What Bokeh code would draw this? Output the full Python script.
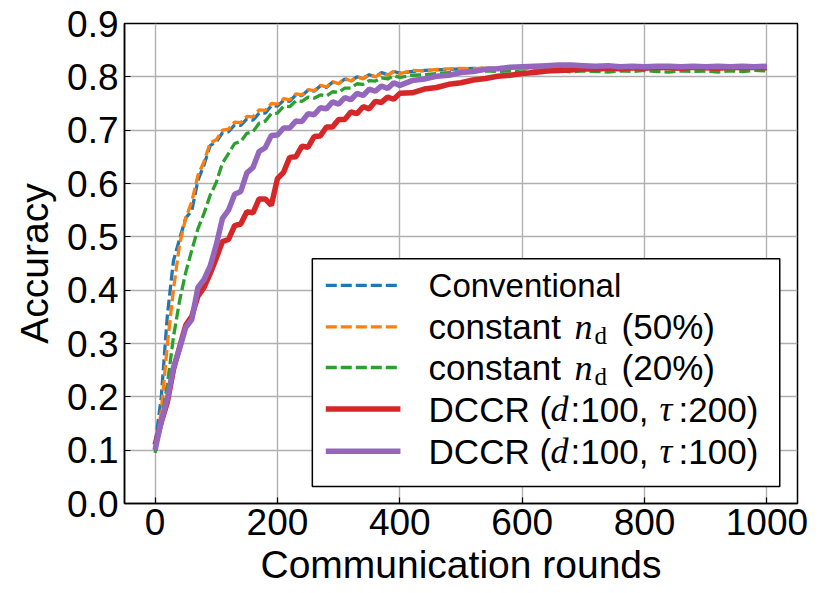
from bokeh.plotting import figure
from bokeh.models import Label, FixedTicker, Range1d
from bokeh.embed import file_html
from bokeh.resources import INLINE

# ---------------- data ----------------
rounds = [0, 10, 20, 30, 40, 50, 60, 70, 80, 90, 100, 110, 120, 130, 140, 150, 160, 170, 180, 190,
          200, 210, 220, 230, 240, 250, 260, 270, 280, 290, 300, 310, 320, 330, 340, 350, 360, 370, 380, 390,
          400, 420, 440, 460, 480, 500, 520, 540, 560, 580, 600, 620, 640, 660, 680, 700, 720, 740, 760, 780,
          800, 820, 840, 860, 880, 900, 920, 940, 960, 980, 1000]

conventional = [0.110, 0.198, 0.352, 0.455, 0.496, 0.535, 0.549, 0.606, 0.635, 0.671, 0.678, 0.695, 0.697, 0.710, 0.709, 0.721, 0.719, 0.732, 0.732, 0.746,
                0.745, 0.756, 0.754, 0.766, 0.765, 0.775, 0.773, 0.783, 0.780, 0.790, 0.787, 0.796, 0.792, 0.800, 0.797, 0.804, 0.800, 0.808, 0.804, 0.810,
                0.807, 0.810, 0.812, 0.813, 0.814, 0.815, 0.816, 0.816, 0.816, 0.818, 0.817, 0.818, 0.816, 0.817, 0.818, 0.817, 0.816, 0.818, 0.817, 0.817,
                0.818, 0.816, 0.817, 0.818, 0.817, 0.816, 0.817, 0.818, 0.817, 0.816, 0.817]

const50 = [0.100, 0.172, 0.298, 0.401, 0.486, 0.535, 0.566, 0.615, 0.641, 0.676, 0.682, 0.700, 0.702, 0.715, 0.714, 0.726, 0.725, 0.738, 0.737, 0.750,
           0.749, 0.759, 0.757, 0.768, 0.766, 0.776, 0.774, 0.784, 0.781, 0.791, 0.787, 0.797, 0.792, 0.800, 0.796, 0.804, 0.800, 0.807, 0.803, 0.810,
           0.806, 0.812, 0.811, 0.814, 0.815, 0.816, 0.815, 0.817, 0.816, 0.817, 0.815, 0.817, 0.816, 0.818, 0.816, 0.817, 0.815, 0.817, 0.816, 0.816,
           0.817, 0.815, 0.816, 0.817, 0.816, 0.817, 0.815, 0.817, 0.816, 0.817, 0.816]

const20 = [0.095, 0.152, 0.223, 0.312, 0.380, 0.433, 0.475, 0.515, 0.544, 0.578, 0.602, 0.638, 0.656, 0.675, 0.679, 0.694, 0.697, 0.713, 0.717, 0.731,
           0.732, 0.745, 0.744, 0.755, 0.754, 0.762, 0.760, 0.766, 0.764, 0.772, 0.771, 0.779, 0.779, 0.787, 0.786, 0.793, 0.792, 0.798, 0.796, 0.802,
           0.799, 0.803, 0.804, 0.806, 0.808, 0.809, 0.810, 0.811, 0.810, 0.811, 0.809, 0.811, 0.810, 0.812, 0.809, 0.811, 0.810, 0.809, 0.811, 0.810,
           0.812, 0.810, 0.809, 0.811, 0.810, 0.811, 0.809, 0.811, 0.810, 0.812, 0.811]

dccr_200 = [0.110, 0.152, 0.190, 0.251, 0.293, 0.334, 0.351, 0.389, 0.405, 0.431, 0.460, 0.491, 0.495, 0.521, 0.524, 0.547, 0.545, 0.571, 0.571, 0.559,
            0.609, 0.621, 0.649, 0.650, 0.670, 0.668, 0.688, 0.689, 0.706, 0.706, 0.720, 0.720, 0.734, 0.731, 0.744, 0.740, 0.754, 0.752, 0.762, 0.758,
            0.769, 0.770, 0.777, 0.780, 0.786, 0.789, 0.794, 0.797, 0.801, 0.803, 0.806, 0.808, 0.811, 0.812, 0.813, 0.815, 0.814, 0.816, 0.815, 0.817,
            0.816, 0.818, 0.817, 0.816, 0.818, 0.817, 0.816, 0.818, 0.817, 0.818, 0.817]

dccr_100 = [0.100, 0.154, 0.196, 0.255, 0.290, 0.330, 0.345, 0.405, 0.420, 0.445, 0.485, 0.534, 0.550, 0.580, 0.585, 0.620, 0.630, 0.660, 0.667, 0.690,
            0.691, 0.704, 0.704, 0.717, 0.716, 0.731, 0.729, 0.742, 0.740, 0.753, 0.749, 0.761, 0.757, 0.769, 0.765, 0.777, 0.773, 0.783, 0.778, 0.789,
            0.784, 0.793, 0.796, 0.801, 0.803, 0.808, 0.810, 0.814, 0.815, 0.818, 0.819, 0.820, 0.821, 0.822, 0.822, 0.821, 0.820, 0.821, 0.819, 0.820,
            0.819, 0.820, 0.820, 0.819, 0.820, 0.819, 0.820, 0.819, 0.820, 0.819, 0.820]

x_ticks = [0, 200, 400, 600, 800, 1000]
y_ticks = [0.0, 0.1, 0.2, 0.3, 0.4, 0.5, 0.6, 0.7, 0.8, 0.9]
y_tick_labels = {v: f"{v:.1f}" for v in y_ticks}

FONT = "Liberation Sans"
SERIF = "Liberation Serif"
C_BLUE, C_ORANGE, C_GREEN, C_RED, C_PURPLE = "#1f77b4", "#ff7f0e", "#2ca02c", "#d62728", "#9467bd"

p = figure(width=822, height=585, output_backend="svg", toolbar_location=None,
           frame_width=673, frame_height=480,
           x_range=Range1d(-50, 1050), y_range=Range1d(0, 0.9),
           min_border_left=124, min_border_right=25, min_border_top=23, min_border_bottom=82)
p.background_fill_color = "white"
p.border_fill_color = "white"
p.outline_line_color = "black"
p.outline_line_width = 1.5

for ax in (p.xaxis[0], p.yaxis[0]):
    ax.major_label_text_font = FONT
    ax.major_label_text_font_size = "37px"
    ax.major_label_text_color = "black"
    ax.axis_label_text_font = FONT
    ax.axis_label_text_font_size = "39px"
    ax.axis_label_text_font_style = "normal"
    ax.axis_label_text_color = "black"
    ax.major_tick_in = 6
    ax.major_tick_out = 0
    ax.minor_tick_line_color = None
    ax.axis_line_color = "black"
    ax.axis_line_width = 1.5
    ax.major_tick_line_width = 1.2

p.xaxis.ticker = FixedTicker(ticks=x_ticks)
p.yaxis.ticker = FixedTicker(ticks=y_ticks)
p.yaxis.major_label_overrides = y_tick_labels
p.xaxis.axis_label = "Communication rounds"
p.yaxis.axis_label = "Accuracy"
p.xaxis.major_label_standoff = 5
p.yaxis.major_label_standoff = 6
p.xaxis.axis_label_standoff = 5
p.yaxis.axis_label_standoff = 8

p.grid.grid_line_color = "#b0b0b0"
p.grid.grid_line_width = 1.4

DASH = "11 4"
p.line(rounds, conventional, line_color=C_BLUE, line_width=3.3, line_dash=DASH)
p.line(rounds, const50, line_color=C_ORANGE, line_width=3.3, line_dash=DASH)
p.line(rounds, const20, line_color=C_GREEN, line_width=3.3, line_dash=DASH)
p.line(rounds, dccr_200, line_color=C_RED, line_width=5.5)
p.line(rounds, dccr_100, line_color=C_PURPLE, line_width=5.5)

# ---------------- legend (drawn by hand for the math parts) ----------------
p.quad(left=[257], right=[1021], bottom=[0.032], top=[0.459],
       fill_color="white", fill_alpha=1.0, line_color="black", line_width=1.5, level="overlay")

entry_y = [0.409, 0.331, 0.255, 0.177, 0.098]
entry_col = [C_BLUE, C_ORANGE, C_GREEN, C_RED, C_PURPLE]
entry_dash = [DASH, DASH, DASH, "solid", "solid"]
entry_w = [3.3, 3.3, 3.3, 5.5, 5.5]
for yy, cc, dd, ww in zip(entry_y, entry_col, entry_dash, entry_w):
    p.line([279, 401], [yy, yy], line_color=cc, line_width=ww, line_dash=dd, level="overlay")

TX = 447
FS = "35px"


def piece(text, y, dx, font=FONT, style="normal", size=FS, dy=0):
    p.add_layout(Label(x=TX, y=y, x_offset=dx, y_offset=dy, text=text, text_font=font,
                       text_font_style=style, text_font_size=size, text_color="black",
                       text_baseline="middle", text_align="left", level="overlay"))


piece("Conventional", entry_y[0], 0, size="33px")
for yy, pct in ((entry_y[1], "(50%)"), (entry_y[2], "(20%)")):
    piece("constant", yy, 0)
    piece("n", yy, 146, font=SERIF, style="italic", size="36px")
    piece("d", yy, 166, font=SERIF, size="25px", dy=-9)
    piece(pct, yy, 193)
for yy, tau in ((entry_y[3], "200"), (entry_y[4], "100")):
    piece("DCCR (", yy, 0)
    piece("d", yy, 122, font=SERIF, style="italic", size="36px")
    piece(":100,", yy, 142)
    piece("τ", yy, 231, font=SERIF, style="italic", size="36px")
    piece(":" + tau + ")", yy, 250)

open("out.html", "w").write(file_html(p, INLINE))
